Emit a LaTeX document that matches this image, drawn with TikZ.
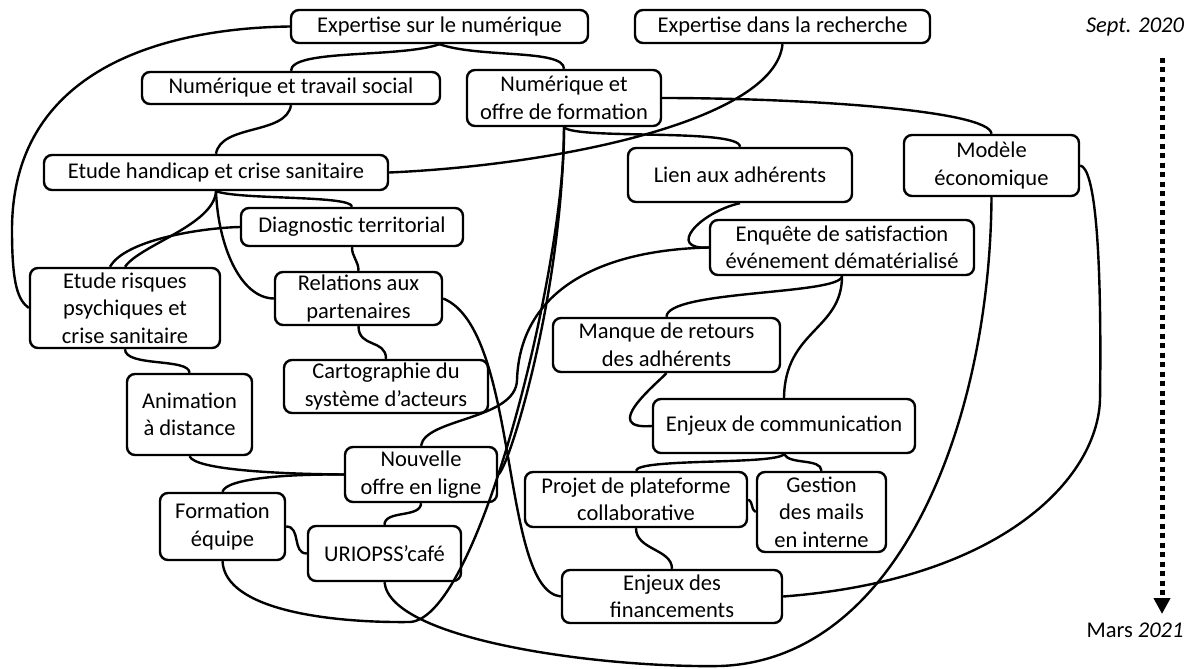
\documentclass[tikz,border=0pt]{standalone}
\usepackage{fontspec}
\setmainfont{Carlito}
\usetikzlibrary{arrows.meta,calc}
\tikzset{
  topic/.style={draw, line width=2.4pt, rounded corners=8pt, align=center, inner sep=0pt,
    font=\fontsize{22.5}{27.5}\selectfont},
  link/.style={line width=2.4pt},
  datelabel/.style={font=\fontsize{22.5}{27.5}\selectfont},
}
\begin{document}
\begin{tikzpicture}[x=1pt,y=-1pt]
	\useasboundingbox (0,0) rectangle (1194,669);
	
	\node[topic, minimum width=297, minimum height=33] (exn) at (439.5,26.5) {Expertise sur le numérique};
	\node[topic, minimum width=295, minimum height=33] (exr) at (782.5,26.5) {Expertise dans la recherche};
	\node[topic, minimum width=298, minimum height=32] (nts) at (291,88) {Numérique et travail social};
	\node[topic, minimum width=194, minimum height=56] (nof) at (564,98) {Numérique et\\offre de formation};
	\node[topic, minimum width=344, minimum height=35] (ehc) at (216,172.5) {Etude handicap et crise sanitaire};
	\node[topic, minimum width=224, minimum height=54] (lad) at (740,175) {Lien aux adhérents};
	\node[topic, minimum width=175, minimum height=61] (mod) at (991.5,165.5) {Modèle\\économique};
	\node[topic, minimum width=222, minimum height=38] (dia) at (352,227) {Diagnostic territorial};
	\node[topic, minimum width=264, minimum height=55] (enq) at (842,247.5) {Enquête de satisfaction\\événement dématérialisé};
	\node[topic, minimum width=190, minimum height=80] (erp) at (125,308) {Etude risques\\psychiques et\\crise sanitaire};
	\node[topic, minimum width=167, minimum height=53] (rel) at (358.5,298.5) {Relations aux\\partenaires};
	\node[topic, minimum width=227, minimum height=54] (mrt) at (666.5,345) {Manque de retours\\des adhérents};
	\node[topic, minimum width=204, minimum height=53] (car) at (386,386.5) {Cartographie du\\système d’acteurs};
	\node[topic, minimum width=125, minimum height=81] (ani) at (189.5,414.5) {Animation\\à distance};
	\node[topic, minimum width=262, minimum height=54] (ecm) at (784,426) {Enjeux de communication};
	\node[topic, minimum width=152, minimum height=55] (nol) at (421,474.5) {Nouvelle\\offre en ligne};
	\node[topic, minimum width=222, minimum height=55] (ppc) at (636,499.5) {Projet de plateforme\\collaborative};
	\node[topic, minimum width=129, minimum height=80] (gdm) at (821.5,512) {Gestion\\des mails\\en interne};
	\node[topic, minimum width=125, minimum height=67] (feq) at (222.5,526.5) {Formation\\équipe};
	\node[topic, minimum width=153, minimum height=55] (uca) at (384.5,553.5) {URIOPSS’café};
	\node[topic, minimum width=220, minimum height=53] (efi) at (672,596.5) {Enjeux des\\financements};
	
	% top of the map
	\draw[link] (exn.west) .. controls (180,28) and (12,60) .. (12,230) .. controls (12,285) and (18,300) .. (erp.west);
	\draw[link] (exn.south) .. controls +(-40,14) and +(0,-22) .. (nts.north);
	\draw[link] (exn.south) .. controls +(40,14) and +(0,-20) .. (nof.north);
	\draw[link] (nts.south) .. controls +(-5,30) and +(5,-30) .. (ehc.north);
	\draw[link] (ehc.east) .. controls (560,165) and (775,120) .. (exr.south);
	\draw[link] (nof.south) .. controls (575,140) and (740,128) .. (lad.north);
	\draw[link] (nof.east) .. controls (800,98) and (990,110) .. (mod.north);
	
	% left side
	\draw[link] (ehc.south) .. controls (240,200) and (352,195) .. (dia.north);
	\draw[link] (ehc.south) .. controls (214,225) and (140,245) .. (erp.north);
	\draw[link] (dia.west) .. controls (200,228) and (125,240) .. ([xshift=-15pt]erp.north);
	\draw[link] (ehc.south) .. controls (218,245) and (240,298) .. (rel.west);
	\draw[link] (dia.south) .. controls +(0,10) and +(0,-10) .. (rel.north);
	\draw[link] (rel.south) .. controls +(0,22) and +(0,-20) .. (car.north);
	\draw[link] (erp.south) .. controls +(0,18) and +(0,-15) .. (ani.north);
	\draw[link] (ani.south) .. controls (195,470) and (280,474) .. (nol.west);
	\draw[link] (feq.north) .. controls (226,478) and (290,474) .. (nol.west);
	\draw[link] (nol.south) .. controls +(0,15) and +(0,-15) .. (uca.north);
	\draw[link] (feq.east) .. controls +(15,0) and +(-15,0) .. (uca.west);
	
	% long links through the middle
	\draw[link] (feq.south) .. controls (225,610) and (330,623) .. (410,622) .. controls (480,618) and (566,260) .. (nof.south);
	\draw[link] (nof.south) .. controls (562,300) and (508,470) .. (nol.east);
	\draw[link] (enq.west) .. controls (600,250) and (520,290) .. (517,380) .. controls (516,420) and (425,418) .. (nol.north);
	\draw[link] (rel.east) .. controls (520,330) and (500,590) .. (efi.west);
	\draw[link] (uca.south) .. controls (390,640) and (600,668) .. (720,666) .. controls (900,660) and (990,420) .. (mod.south);
	
	% right side
	\draw[link] (lad.south) .. controls (700,212) and (665,250) .. (enq.west);
	\draw[link] (enq.south) .. controls (840,295) and (667,290) .. (mrt.north);
	\draw[link] (enq.south) .. controls (842,330) and (785,330) .. (ecm.north);
	\draw[link] (mrt.south) .. controls (655,385) and (600,430) .. (ecm.west);
	\draw[link] (ecm.south) .. controls (775,465) and (637,458) .. (ppc.north);
	\draw[link] (ecm.south) .. controls (790,465) and (821,458) .. (gdm.north);
	\draw[link] (ppc.east) .. controls +(6,4) and +(-6,-4) .. (gdm.west);
	\draw[link] (ppc.south) .. controls +(0,22) and +(0,-20) .. (efi.north);
	\draw[link] (mod.east) .. controls (1095,168) and (1102,250) .. (1100,400) .. controls (1097,480) and (1000,580) .. (efi.east);
	
	% time line
	\node[datelabel, font=\fontsize{22.5}{27.5}\selectfont\itshape] (sept) at (1135,27) {Sept. 2020};
	\node[datelabel] (mars) at (1135,630) {Mars \textit{2021}};
	\coordinate (tstart) at (1162,58);
	\coordinate (tend) at (1162,614);
	\draw[line width=5pt, dash pattern=on 5pt off 4.5pt, -{Triangle[width=16pt,length=16pt]}] (tstart) -- (tend);
\end{tikzpicture}
\end{document}
